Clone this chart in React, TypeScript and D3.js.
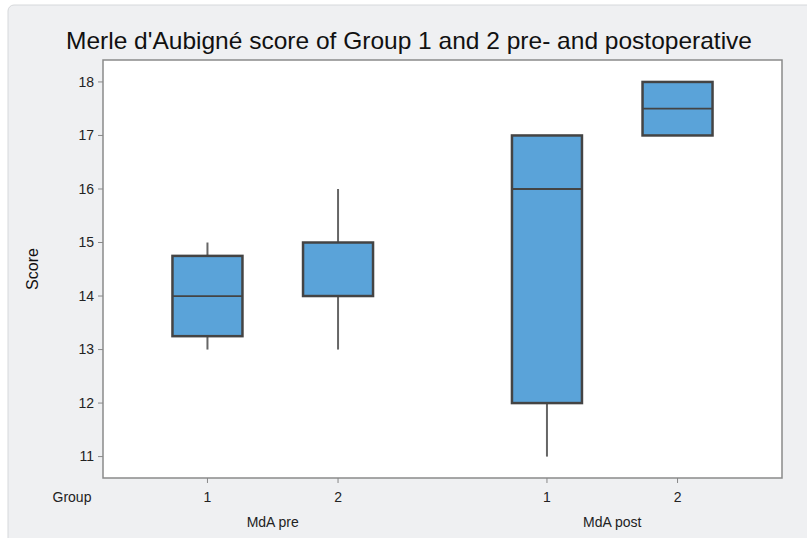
import * as d3 from 'd3';

// Merle d'Aubigné score boxplots
const periods = ['MdA pre', 'MdA post'];
const groups = ['1', '2'];
const yTicks = [11, 12, 13, 14, 15, 16, 17, 18];

// one entry per period/group: [min, q1, median, q3, max]
const boxPeriod = ['MdA pre', 'MdA pre', 'MdA post', 'MdA post'];
const boxGroup = ['1', '2', '1', '2'];
const boxMin = [13, 13, 11, 17];
const boxQ1 = [13.25, 14, 12, 17];
const boxMedian = [14, 14, 16, 17.5];
const boxQ3 = [14.75, 15, 17, 18];
const boxMax = [15, 16, 17, 18];

const W = 807;
const H = 538;
const font = '"Liberation Sans", Arial, Helvetica, sans-serif';

export default function App() {
  const left = 103, right = 782, top = 60, bottom = 478;

  const x0 = d3.scaleBand().domain(periods).range([left, right]);
  const x1 = d3.scalePoint().domain(groups).range([0, x0.bandwidth()]).padding(0.8);
  const y = d3.scaleLinear().domain([10.6, 18.41]).range([bottom, top]);

  const boxW = 70;
  const cx = (i: number) => (x0(boxPeriod[i]) ?? 0) + (x1(boxGroup[i]) ?? 0);

  return (
    <svg width={W} height={H} style={{ position: 'absolute', left: 0, top: 0 }} fontFamily={font}>
      <rect x={0} y={0} width={W} height={H} fill="#ffffff" />
      <rect x={8} y={5} width={W + 20} height={H + 20} rx={6} fill="#eff0f2" stroke="#d6d8db" strokeWidth={1} />

      <text x={409} y={49} textAnchor="middle" fontSize={24} fill="#111" textLength={686} lengthAdjust="spacingAndGlyphs">
        Merle d'Aubigné score of Group 1 and 2 pre- and postoperative
      </text>

      <rect x={left} y={top} width={right - left} height={bottom - top} fill="#fff" stroke="#8a8a8a" strokeWidth={1.5} />

      {/* y axis */}
      {yTicks.map(t => (
        <g key={t}>
          <line x1={left - 5} x2={left} y1={y(t)} y2={y(t)} stroke="#888" />
          <text x={left - 9} y={y(t)} dy="0.35em" textAnchor="end" fontSize={14} fill="#222">{t}</text>
        </g>
      ))}
      <text transform={`translate(38,${(top + bottom) / 2}) rotate(-90)`} textAnchor="middle" fontSize={16} fill="#111">Score</text>

      {/* x axis */}
      {boxPeriod.map((p, i) => (
        <g key={'x' + i}>
          <line x1={cx(i)} x2={cx(i)} y1={bottom} y2={bottom + 5} stroke="#888" />
          <text x={cx(i)} y={502} textAnchor="middle" fontSize={14} fill="#222">{boxGroup[i]}</text>
        </g>
      ))}
      <text x={72} y={502} textAnchor="middle" fontSize={14} fill="#222">Group</text>
      {periods.map(p => (
        <text key={p} x={(x0(p) ?? 0) + x0.bandwidth() / 2} y={527} textAnchor="middle" fontSize={14} fill="#222">{p}</text>
      ))}

      {/* boxes */}
      {boxPeriod.map((p, i) => (
        <g key={'b' + i}>
          <line x1={cx(i)} x2={cx(i)} y1={y(boxMax[i])} y2={y(boxQ3[i])} stroke="#666" strokeWidth={2} />
          <line x1={cx(i)} x2={cx(i)} y1={y(boxQ1[i])} y2={y(boxMin[i])} stroke="#666" strokeWidth={2} />
          <rect x={cx(i) - boxW / 2} y={y(boxQ3[i])} width={boxW} height={y(boxQ1[i]) - y(boxQ3[i])}
            fill="#5aa3d9" stroke="#444" strokeWidth={2.5} />
          <line x1={cx(i) - boxW / 2} x2={cx(i) + boxW / 2} y1={y(boxMedian[i])} y2={y(boxMedian[i])} stroke="#444" strokeWidth={1.8} />
        </g>
      ))}
    </svg>
  );
}
